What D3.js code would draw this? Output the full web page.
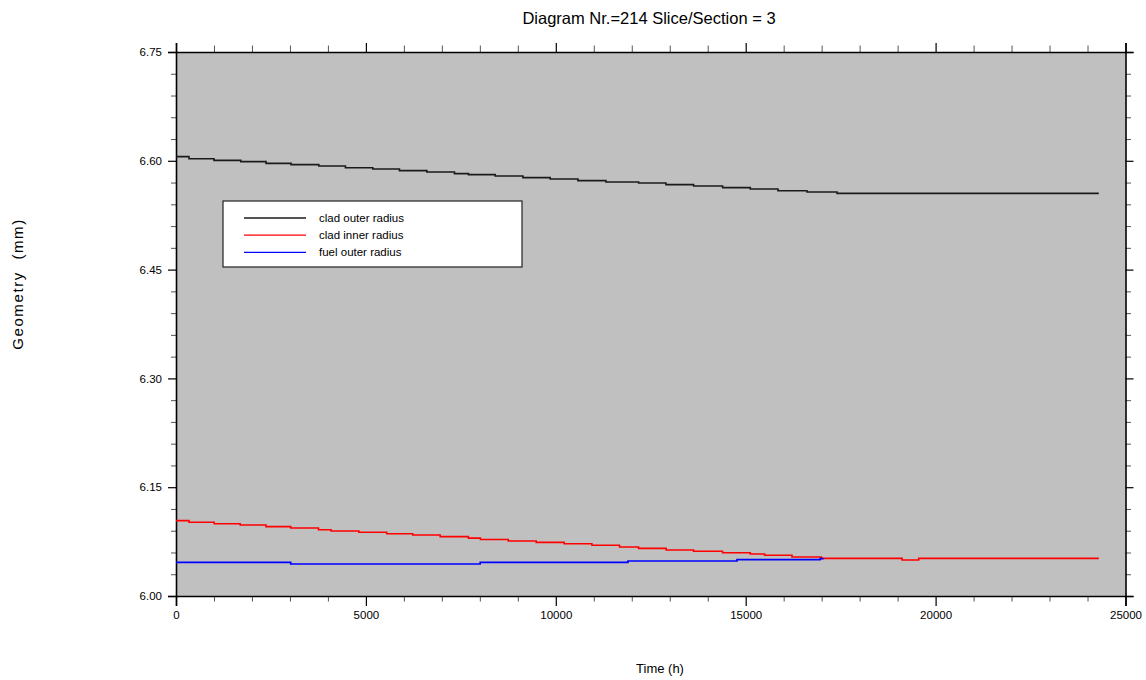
<!DOCTYPE html>
<html>
<head>
<meta charset="utf-8">
<script src="https://cdn.jsdelivr.net/npm/d3@7"></script>
<style>
  body { margin: 0; background: #fff; }
  text { font-family: "Liberation Sans", Arial, sans-serif; fill: #000; }
</style>
</head>
<body>
<script>
// Chart data (step series: times have one more entry than values, last entry = end of series)
const cladOuterTime = [0, 342, 1001, 1705, 2371, 3030, 3760, 4461, 5182, 5883, 6605, 7332, 7701, 8404, 9134,
  9853, 10582, 11320, 12180, 12900, 13628, 14392, 15121, 15850, 16614, 17405, 24296];
const cladOuterRadius = [6.6057, 6.6029, 6.6006, 6.5988, 6.5965, 6.5947, 6.5928, 6.5905, 6.5887, 6.5864,
  6.5846, 6.5823, 6.5809, 6.5791, 6.5768, 6.5749, 6.5726, 6.5708, 6.5694, 6.5671, 6.5653, 6.5630,
  6.5612, 6.5588, 6.5570, 6.5551];

const cladInnerTime = [0, 342, 1006, 1691, 2368, 3021, 3751, 4083, 4815, 5548, 6233, 6955, 7698, 8016, 8749,
  9484, 10221, 10951, 11678, 12179, 12908, 13627, 14391, 15121, 15498, 16219, 16992, 19118, 19555, 24297];
const cladInnerRadius = [6.1039, 6.1016, 6.0997, 6.0979, 6.0956, 6.0938, 6.0914, 6.0896, 6.0878, 6.0859,
  6.0841, 6.0818, 6.0798, 6.0779, 6.0758, 6.0740, 6.0721, 6.0699, 6.0676, 6.0657, 6.0634, 6.0616,
  6.0597, 6.0579, 6.0561, 6.0538, 6.0519, 6.0496, 6.0519];

const fuelOuterTime = [0, 3021, 8009, 11900, 14771, 16960, 17050];
const fuelOuterRadius = [6.0464, 6.0441, 6.0464, 6.0483, 6.0501, 6.0515];

const seriesNames = ["clad outer radius", "clad inner radius", "fuel outer radius"];
const seriesColors = ["#1a1a1a", "#ff0000", "#0000ff"];

const xTicks = [0, 5000, 10000, 15000, 20000, 25000];
const yTicks = [6.00, 6.15, 6.30, 6.45, 6.60, 6.75];

const titleText = "Diagram Nr.=214 Slice/Section = 3";
const xTitle = "Time (h)";
const yTitle = "Geometry  (mm)";

// Layout
const W = 1146, H = 680;
const plot = { left: 176, right: 1125.5, top: 52, bottom: 596 };

const svg = d3.select("body").append("svg")
  .attr("width", W)
  .attr("height", H);

const x = d3.scaleLinear().domain([0, 25000]).range([plot.left, plot.right]);
const y = d3.scaleLinear().domain([6.0, 6.75]).range([plot.bottom, plot.top]);

// Plot background
svg.append("rect")
  .attr("x", plot.left).attr("y", plot.top)
  .attr("width", plot.right - plot.left)
  .attr("height", plot.bottom - plot.top)
  .attr("fill", "#c0c0c0");

// Minor ticks
const xMinor = d3.range(0, 25001, 1000).filter(v => !xTicks.includes(v));
const yMinor = d3.range(0, 26).map(i => 6 + i * 0.03).filter(v => !yTicks.some(t => Math.abs(t - v) < 1e-6));

function styleAxis(g) {
  g.select(".domain").attr("stroke", "#000").attr("stroke-width", 1.6);
  g.selectAll(".tick line").attr("stroke", "#000").attr("stroke-width", 1.2);
  g.selectAll(".tick text").style("font-size", "11.5px").style("font-family", "Liberation Sans, Arial, sans-serif");
}

function minorAxis(axisFn, scale, values, len) {
  return axisFn(scale).tickValues(values).tickSize(len).tickFormat("");
}

// bottom
svg.append("g").attr("transform", `translate(0,${plot.bottom})`)
  .call(minorAxis(d3.axisBottom, x, xMinor, 5.5))
  .call(g => { g.select(".domain").remove(); g.selectAll("line").attr("stroke", "#555"); });
svg.append("g").attr("transform", `translate(0,${plot.bottom})`)
  .call(d3.axisBottom(x).tickValues(xTicks).tickSize(10).tickPadding(5).tickFormat(d3.format("d")))
  .call(styleAxis);

// top
svg.append("g").attr("transform", `translate(0,${plot.top})`)
  .call(minorAxis(d3.axisTop, x, xMinor, 6.5))
  .call(g => { g.select(".domain").remove(); g.selectAll("line").attr("stroke", "#555"); });
svg.append("g").attr("transform", `translate(0,${plot.top})`)
  .call(d3.axisTop(x).tickValues(xTicks).tickSize(9).tickFormat(""))
  .call(styleAxis);

// left
svg.append("g").attr("transform", `translate(${plot.left},0)`)
  .call(minorAxis(d3.axisLeft, y, yMinor, 5))
  .call(g => { g.select(".domain").remove(); g.selectAll("line").attr("stroke", "#555"); });
svg.append("g").attr("transform", `translate(${plot.left},0)`)
  .call(d3.axisLeft(y).tickValues(yTicks).tickSize(8).tickPadding(6).tickFormat(d3.format(".2f")))
  .call(styleAxis);

// right
svg.append("g").attr("transform", `translate(${plot.right},0)`)
  .call(minorAxis(d3.axisRight, y, yMinor, 5.5))
  .call(g => { g.select(".domain").remove(); g.selectAll("line").attr("stroke", "#555"); });
svg.append("g").attr("transform", `translate(${plot.right},0)`)
  .call(d3.axisRight(y).tickValues(yTicks).tickSize(8).tickFormat(""))
  .call(styleAxis);

// Series lines
const stepLine = d3.line()
  .x(d => x(d[0]))
  .y(d => y(d[1]))
  .curve(d3.curveStepAfter);

function toPoints(times, values) {
  return times.map((t, i) => [t, values[Math.min(i, values.length - 1)]]);
}

const series = [
  toPoints(cladOuterTime, cladOuterRadius),
  toPoints(cladInnerTime, cladInnerRadius),
  toPoints(fuelOuterTime, fuelOuterRadius)
];

series.forEach((pts, i) => {
  svg.append("path")
    .datum(pts)
    .attr("fill", "none")
    .attr("stroke", seriesColors[i])
    .attr("stroke-width", 1.6)
    .attr("d", stepLine);
});

// Legend
const legend = svg.append("g").attr("transform", "translate(223,201)");
legend.append("rect")
  .attr("width", 299).attr("height", 66)
  .attr("fill", "#fff").attr("stroke", "#222").attr("stroke-width", 1.2);
seriesNames.forEach((name, i) => {
  const ly = 17 + i * 17.2;
  legend.append("line")
    .attr("x1", 21).attr("x2", 83)
    .attr("y1", ly).attr("y2", ly)
    .attr("stroke", seriesColors[i]).attr("stroke-width", 1.3);
  legend.append("text")
    .attr("x", 96).attr("y", ly + 4)
    .style("font-size", "11.5px")
    .text(name);
});

// Titles
svg.append("text")
  .attr("x", 649).attr("y", 24)
  .attr("text-anchor", "middle")
  .style("font-size", "16.5px")
  .text(titleText);

svg.append("text")
  .attr("x", 660).attr("y", 673)
  .attr("text-anchor", "middle")
  .style("font-size", "13px")
  .text(xTitle);

svg.append("text")
  .attr("transform", "translate(23,284) rotate(-90)")
  .attr("text-anchor", "middle")
  .style("font-size", "15px")
  .style("letter-spacing", "1.6px")
  .style("white-space", "pre")
  .text(yTitle);
</script>
</body>
</html>
